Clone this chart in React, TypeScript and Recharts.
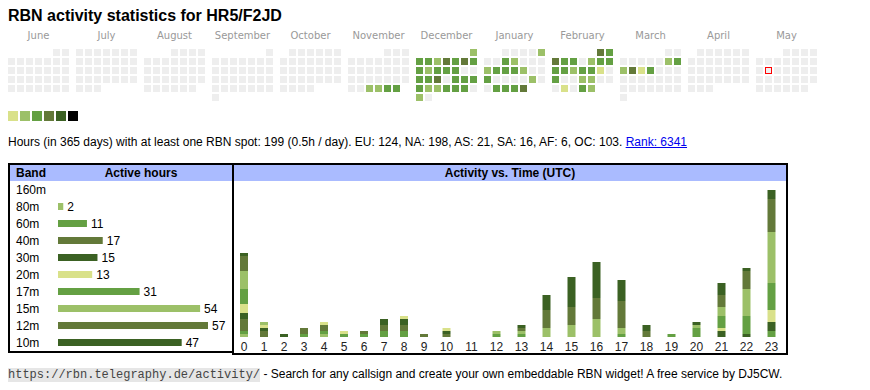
import React from 'react';
import { BarChart, Bar, XAxis, YAxis, Cell, LabelList, ScatterChart, Scatter } from 'recharts';

// ---------- text ----------
const titleText = 'RBN activity statistics for HR5/F2JD';
const summaryText = 'Hours (in 365 days) with at least one RBN spot: 199 (0.5h / day). EU: 124, NA: 198, AS: 21, SA: 16, AF: 6, OC: 103. ';
const rankText = 'Rank: 6341';
const footerUrl = 'https://rbn.telegraphy.de/activity/';
const footerText = ' - Search for any callsign and create your own embeddable RBN widget! A free service by DJ5CW.';

// ---------- calendar ----------
const monthNames = ['June', 'July', 'August', 'September', 'October', 'November', 'December', 'January', 'February', 'March', 'April', 'May'];
const startYear = 2024;
const startMonth = 5; // June, 0-based
const todayMonth = 'May';
const todayDay = 13;
const levelColors = ['#eeeeee', '#d9e18a', '#9cc068', '#64a043', '#637939', '#3b6123', '#000000'];

const novLevels = [0, 0, 0, 0, 0, 0, 0, 0, 0, 0, 0, 0, 0, 0, 0, 0, 0, 0, 0, 0, 0, 0, 0, 0, 0, 0, 2, 2, 3, 3];
const decLevels = [2, 3, 3, 2, 4, 3, 4, 3, 3, 2, 3, 3, 3, 0, 0, 3, 3, 4, 0, 3, 3, 3, 3, 2, 2, 3, 3, 3, 0, 2, 0];
const janLevels = [0, 0, 0, 0, 2, 0, 0, 3, 2, 0, 0, 0, 2, 3, 3, 3, 2, 0, 0, 3, 0, 0, 0, 0, 2, 0, 0, 3, 3, 3, 4];
const febLevels = [4, 3, 4, 3, 3, 0, 2, 3, 3, 3, 3, 2, 3, 3, 1, 0, 3, 0, 0, 2, 2, 0, 0, 0, 1, 0, 3, 2];
const marLevels = [0, 0, 0, 0, 0, 0, 0, 2, 3, 2, 4, 1, 3, 0, 0, 0, 0, 0, 0, 0, 0, 0, 0, 0, 0, 0, 0, 0, 0, 0, 0];
const monthLevels: Record<string, number[]> = {
  November: novLevels,
  December: decLevels,
  January: janLevels,
  February: febLevels,
  March: marLevels,
};

// ---------- bands ----------
const bands = ['160m', '80m', '60m', '40m', '30m', '20m', '17m', '15m', '12m', '10m'];
const bandHours = [0, 2, 11, 17, 15, 13, 31, 54, 57, 47];
const bandColors = ['#d9e18a', '#9cc068', '#64a043', '#637939', '#3b6123', '#d9e18a', '#64a043', '#9cc068', '#637939', '#3b6123'];

// ---------- activity vs time ----------
const hourLabels = ['0', '1', '2', '3', '4', '5', '6', '7', '8', '9', '10', '11', '12', '13', '14', '15', '16', '17', '18', '19', '20', '21', '22', '23'];
const h160m = [0, 0, 0, 0, 0, 0, 0, 0, 0, 0, 0, 0, 0, 0, 0, 0, 0, 0, 0, 0, 0, 0, 0, 0];
const h80m = [1, 0, 0, 0, 1, 0, 0, 0, 0, 0, 0, 0, 0, 0, 0, 0, 0, 0, 0, 0, 0, 0, 0, 0];
const h60m = [1, 0, 0, 1, 1, 1, 1, 2, 2, 0, 0, 0, 0, 0, 0, 0, 0, 0, 0, 0, 0, 0, 0, 2];
const h40m = [4, 2, 0, 2, 2, 0, 1, 2, 2, 1, 1, 0, 0, 0, 0, 0, 0, 0, 0, 0, 0, 0, 0, 0];
const h30m = [2, 1, 1, 0, 0, 0, 0, 2, 2, 0, 1, 0, 0, 0, 0, 0, 0, 0, 0, 0, 0, 2, 1, 3];
const h20m = [3, 1, 0, 0, 1, 1, 0, 0, 1, 0, 1, 0, 0, 0, 0, 0, 0, 0, 0, 0, 0, 1, 0, 4];
const h17m = [5, 0, 0, 0, 0, 0, 0, 0, 0, 0, 0, 0, 1, 1, 0, 0, 0, 1, 0, 1, 3, 4, 6, 9];
const h15m = [6, 1, 0, 0, 0, 0, 0, 0, 0, 0, 0, 0, 1, 1, 3, 4, 6, 2, 0, 0, 1, 3, 9, 17];
const h12m = [5, 0, 0, 0, 0, 0, 0, 0, 0, 0, 0, 0, 0, 1, 6, 6, 7, 9, 2, 0, 0, 4, 6, 11];
const h10m = [1, 0, 0, 0, 0, 0, 0, 0, 0, 0, 0, 0, 0, 1, 5, 10, 12, 7, 2, 0, 1, 4, 1, 3];
const bandSeries = [h160m, h80m, h60m, h40m, h30m, h20m, h17m, h15m, h12m, h10m];

// ---------- layout constants ----------
const SANS = 'Arial, "Liberation Sans", Helvetica, sans-serif';
const CELL = 7;
const CELL_PITCH = 9;
const MONTH_PITCH = 68;

// calendar cells computed from dates
const calendarCells: { x: number; y: number; level: number; today: boolean }[] = [];
monthNames.forEach((name, m) => {
  const yy = startYear + Math.floor((startMonth + m) / 12);
  const mo = (startMonth + m) % 12;
  const days = new Date(Date.UTC(yy, mo + 1, 0)).getUTCDate();
  const firstCol = (new Date(Date.UTC(yy, mo, 1)).getUTCDay() + 6) % 7;
  const levels = monthLevels[name] || [];
  for (let d = 1; d <= days; d++) {
    const idx = firstCol + d - 1;
    const col = idx % 7;
    const row = Math.floor(idx / 7);
    calendarCells.push({
      x: m * MONTH_PITCH + col * CELL_PITCH + CELL / 2,
      y: row * CELL_PITCH + CELL / 2,
      level: levels[d - 1] || 0,
      today: name === todayMonth && d === todayDay,
    });
  }
});
const monthTicks = monthNames.map((_, m) => m * MONTH_PITCH + (7 * CELL_PITCH - 2) / 2);

// band table
const bandRows = bands.map((b, i) => ({ band: b, hours: bandHours[i] }));

// hour columns: width depends on label length (like an auto table)
const hourCenters: number[] = [];
{
  let acc = 0;
  hourLabels.forEach((l) => {
    const w = l.length > 1 ? 25 : 20;
    hourCenters.push(acc + w / 2);
    acc += w;
  });
}
const hourTotalWidth = hourLabels.reduce((s, l) => s + (l.length > 1 ? 25 : 20), 0);
const hourRows = hourLabels.map((l, i) => {
  const row: Record<string, number | string> = { pos: hourCenters[i], label: l };
  bands.forEach((b, bi) => {
    row[b] = bandSeries[bi][i];
  });
  return row;
});
const hourMax = Math.max(...hourRows.map((r) => bands.reduce((s, b) => s + (r[b] as number), 0)));

const CalendarCell = (props: any) => {
  const { cx, cy, payload } = props;
  if (cx == null || cy == null) return null;
  const x0 = Math.round(cx - CELL / 2);
  const y0 = Math.round(cy - CELL / 2);
  if (payload.today) {
    return (
      <g>
        <rect x={x0} y={y0} width={CELL} height={CELL} style={{ fill: '#ff0000', stroke: 'none' }} shapeRendering="crispEdges" />
        <rect x={x0 + 1} y={y0 + 1} width={CELL - 2} height={CELL - 2} style={{ fill: '#f0f0f0', stroke: 'none' }} shapeRendering="crispEdges" />
      </g>
    );
  }
  return <rect x={x0} y={y0} width={CELL} height={CELL} fill={levelColors[payload.level]} stroke="none" shapeRendering="crispEdges" />;
};

const MonthTick = (props: any) => {
  const { x, y, index } = props;
  return (
    <text x={x} y={y - 10} textAnchor="middle" fontSize={10} fill="#999999" fontFamily='"DejaVu Sans", Verdana, sans-serif'>
      {monthNames[index]}
    </text>
  );
};

const BandTick = (props: any) => {
  const { y, payload } = props;
  return (
    <text x={6} y={y} dy="0.35em" fontSize={12} fill="#000" fontFamily={SANS}>
      {payload.value}
    </text>
  );
};

export default function App() {
  return (
    <div style={{ position: 'absolute', left: 0, top: 0, width: 870, height: 390, fontFamily: SANS, background: '#fff' }}>
      <div style={{ position: 'absolute', left: 8, top: 6, fontSize: 16, fontWeight: 'bold', lineHeight: '20px', color: '#000' }}>{titleText}</div>

      <div style={{ position: 'absolute', left: 8, top: 29 }}>
        <ScatterChart width={816} height={74} margin={{ top: 0, right: 0, bottom: 0, left: 0 }}>
          <XAxis
            type="number"
            dataKey="x"
            orientation="top"
            domain={[0, 816]}
            ticks={monthTicks}
            interval={0}
            height={20}
            axisLine={false}
            tickLine={false}
            tickSize={0}
            tickMargin={0}
            tick={<MonthTick />}
          />
          <YAxis type="number" dataKey="y" domain={[0, 54]} reversed hide />
          <Scatter data={calendarCells} shape={CalendarCell} isAnimationActive={false} />
        </ScatterChart>
      </div>

      {levelColors.slice(1).map((c, i) => (
        <div key={i} style={{ position: 'absolute', left: 8 + i * 12, top: 111, width: 10, height: 10, background: c }} />
      ))}

      <div style={{ position: 'absolute', left: 8, top: 135, fontSize: 12, lineHeight: '14px', color: '#000', whiteSpace: 'nowrap' }}>
        {summaryText}
        <a href="#" style={{ color: '#0000ee', textDecoration: 'underline' }}>{rankText}</a>
      </div>

      {/* left panel: active hours per band */}
      <div style={{ position: 'absolute', left: 8, top: 163, width: 226, height: 190, boxSizing: 'border-box', border: '2px solid #000' }}>
        <div style={{ position: 'absolute', left: 0, top: 0, width: '100%', height: 16, background: '#aabbff' }}>
          <span style={{ position: 'absolute', left: 6, top: 1, fontSize: 12, fontWeight: 'bold', lineHeight: '14px' }}>Band</span>
          <span style={{ position: 'absolute', left: 131, top: 1, fontSize: 12, fontWeight: 'bold', lineHeight: '14px', transform: 'translateX(-50%)', whiteSpace: 'nowrap' }}>Active hours</span>
        </div>
      </div>
      <div style={{ position: 'absolute', left: 10, top: 181 }}>
        <BarChart width={221} height={170} data={bandRows} layout="vertical" margin={{ top: 0, right: 23, bottom: 0, left: 0 }}>
          <XAxis type="number" domain={[0, Math.max(...bandHours)]} hide />
          <YAxis type="category" dataKey="band" width={48} axisLine={false} tickLine={false} tick={<BandTick />} interval={0} />
          <Bar dataKey="hours" barSize={7} isAnimationActive={false}>
            {bandRows.map((r, i) => (
              <Cell key={r.band} fill={bandColors[i]} />
            ))}
            <LabelList
              dataKey="hours"
              position="right"
              offset={4}
              fill="#000"
              fontSize={12}
              fontFamily={SANS}
              formatter={(v: any) => (v > 0 ? v : '')}
            />
          </Bar>
        </BarChart>
      </div>

      {/* right panel: activity vs time */}
      <div style={{ position: 'absolute', left: 232, top: 163, width: 556, height: 192, boxSizing: 'border-box', border: '2px solid #000' }}>
        <div style={{ position: 'absolute', left: 0, top: 0, width: '100%', height: 16, background: '#aabbff', textAlign: 'center', fontSize: 12, fontWeight: 'bold', lineHeight: '16px' }}>
          Activity vs. Time (UTC)
        </div>
      </div>
      <div style={{ position: 'absolute', left: 234, top: 181 }}>
        <BarChart width={hourTotalWidth} height={172} data={hourRows} margin={{ top: 9, right: 0, bottom: 0, left: 0 }}>
          <XAxis
            type="number"
            dataKey="pos"
            domain={[0, hourTotalWidth]}
            ticks={hourCenters}
            interval={0}
            tickFormatter={(v: number) => hourLabels[hourCenters.indexOf(v)]}
            axisLine={false}
            tickLine={false}
            tickSize={0}
            tickMargin={5}
            height={16}
            tick={{ fontSize: 12, fill: '#222', fontFamily: SANS }}
          />
          <YAxis type="number" domain={[0, hourMax]} hide allowDataOverflow />
          {bands.map((b, i) => (
            <Bar key={b} dataKey={b} stackId="t" fill={bandColors[i]} barSize={8} isAnimationActive={false} />
          ))}
        </BarChart>
      </div>

      <div style={{ position: 'absolute', left: 8, top: 367, fontSize: 12, lineHeight: '14px', whiteSpace: 'nowrap', color: '#000' }}>
        <span style={{ fontFamily: '"Liberation Mono", "Courier New", monospace', fontSize: 12, background: '#e6e6e6', color: '#444' }}>{footerUrl}</span>
        {footerText}
      </div>
    </div>
  );
}
